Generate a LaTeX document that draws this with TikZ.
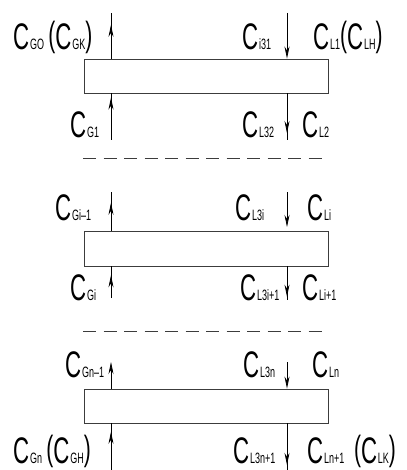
\documentclass[tikz,border=0pt]{standalone}
\usepackage{fontspec}
\setmainfont{Liberation Sans}
\usepackage{graphicx}
\usetikzlibrary{positioning, arrows.meta, decorations.markings}
\definecolor{LineGray}{RGB}{60, 60, 60}

% concentration label: big narrow C with a small index
\newcommand{\conc}[1]{{\fontsize{37}{37}\selectfont C}\kern1.5pt{\fontsize{15}{15}\selectfont #1}}
\newcommand{\bigpar}[1]{\raisebox{3pt}{\fontsize{35}{35}\selectfont #1}}
\newcommand{\lbl}[1]{\scalebox{0.6}[1]{#1}}

\begin{document}
\begin{tikzpicture}[
    x=1pt, y=-1pt,
    blockbox/.style={rectangle, draw=LineGray, fill=white, line width=0.9pt, minimum width=244pt, inner sep=0pt},
    flowline/.style={line width=0.8pt, black},
    tipend/.style={-{Stealth[length=12pt, width=5pt]}},
    flowmark/.style={postaction={decorate, decoration={markings, mark=at position #1 with {\arrow{Stealth[length=12pt, width=5pt]}}}}},
    conclabel/.style={anchor=base west, inner sep=0pt},
    sepline/.style={line width=0.8pt, LineGray, dash pattern=on 13pt off 7.5pt}
]
    \useasboundingbox (0,0) rectangle (406,470);

    % Stage 1
    \node (blkA) [blockbox, minimum height=34pt] at (206,76) {};
    \coordinate (gAtop) at (111,13);
    \coordinate (gAbot) at (111,140);
    \coordinate (lAtop) at (287,13);
    \coordinate (lAbot) at (287,140);

    \node [conclabel] at (13,50) {\lbl{\conc{GO}\hspace{7pt}\bigpar{(}\conc{GK}\bigpar{)}}};
    \node [conclabel] at (242,50) {\lbl{\conc{i31}}};
    \node [conclabel] at (313,50) {\lbl{\conc{L1}\bigpar{(}\conc{LH}\bigpar{)}}};
    \node [conclabel] at (70,138) {\lbl{\conc{G1}}};
    \node [conclabel] at (242,138) {\lbl{\conc{L32}}};
    \node [conclabel] at (302,138) {\lbl{\conc{L2}}};

    % Stage i
    \node (blkB) [blockbox, minimum height=35pt] at (206,248.5) {};
    \coordinate (gBtop) at (111,192);
    \coordinate (gBbot) at (111,298);
    \coordinate (lBtop) at (287,192);
    \coordinate (lBend) at (287,227);
    \coordinate (lBbot) at (287,300);

    \node [conclabel] at (55,220) {\lbl{\conc{Gi--1}}};
    \node [conclabel] at (235,220) {\lbl{\conc{L3i}}};
    \node [conclabel] at (307,220) {\lbl{\conc{Li}}};
    \node [conclabel] at (70,300) {\lbl{\conc{Gi}}};
    \node [conclabel] at (240,300) {\lbl{\conc{L3i+1}}};
    \node [conclabel] at (302,300) {\lbl{\conc{Li+1}}};

    % Stage n
    \node (blkC) [blockbox, minimum height=34pt] at (206,406) {};
    \coordinate (gCtop) at (111,362);
    \coordinate (gCbot) at (111,470);
    \coordinate (lCtop) at (287,362);
    \coordinate (lCbot) at (287,470);

    \node [conclabel] at (65,377) {\lbl{\conc{Gn--1}}};
    \node [conclabel] at (243,377) {\lbl{\conc{L3n}}};
    \node [conclabel] at (312,377) {\lbl{\conc{Ln}}};
    \node [conclabel] at (13,463) {\lbl{\conc{Gn}\hspace{7pt}\bigpar{(}\conc{GH}\bigpar{)}}};
    \node [conclabel] at (233,463) {\lbl{\conc{L3n+1}}};
    \node [conclabel] at (307,463) {\lbl{\conc{Ln+1}\hspace{16pt}\bigpar{(}\conc{LK}\bigpar{)}}};

    % Gaps between stages
    \coordinate (sepAw) at (83,158);
    \coordinate (sepAe) at (327,158);
    \coordinate (sepBw) at (83,331);
    \coordinate (sepBe) at (327,331);
    \draw [sepline] (sepAw) -- (sepAe);
    \draw [sepline] (sepBw) -- (sepBe);

    % Connections
    \draw [flowline, flowmark=0.74] (blkA.north -| gAtop) -- (gAtop);
    \draw [flowline, flowmark=0.91] (gAbot) -- (blkA.south -| gAbot);
    \draw [flowline, tipend] (lAtop) -- (blkA.north -| lAtop);
    \draw [flowline, flowmark=0.85] (blkA.south -| lAbot) -- (lAbot);

    \draw [flowline, flowmark=0.72] (blkB.north -| gBtop) -- (gBtop);
    \draw [flowline, flowmark=0.72] (gBbot) -- (blkB.south -| gBbot);
    \draw [flowline, tipend] (lBtop) -- (lBend);
    \draw [flowline, flowmark=0.9] (blkB.south -| lBbot) -- (lBbot);

    \draw [flowline, tipend] (blkC.north -| gCtop) -- (gCtop);
    \draw [flowline, tipend] (lCtop) -- (blkC.north -| lCtop);
    \draw [flowline, flowmark=0.82] (gCbot) -- (blkC.south -| gCbot);
    \draw [flowline, flowmark=0.89] (blkC.south -| lCbot) -- (lCbot);

\end{tikzpicture}
\end{document}
